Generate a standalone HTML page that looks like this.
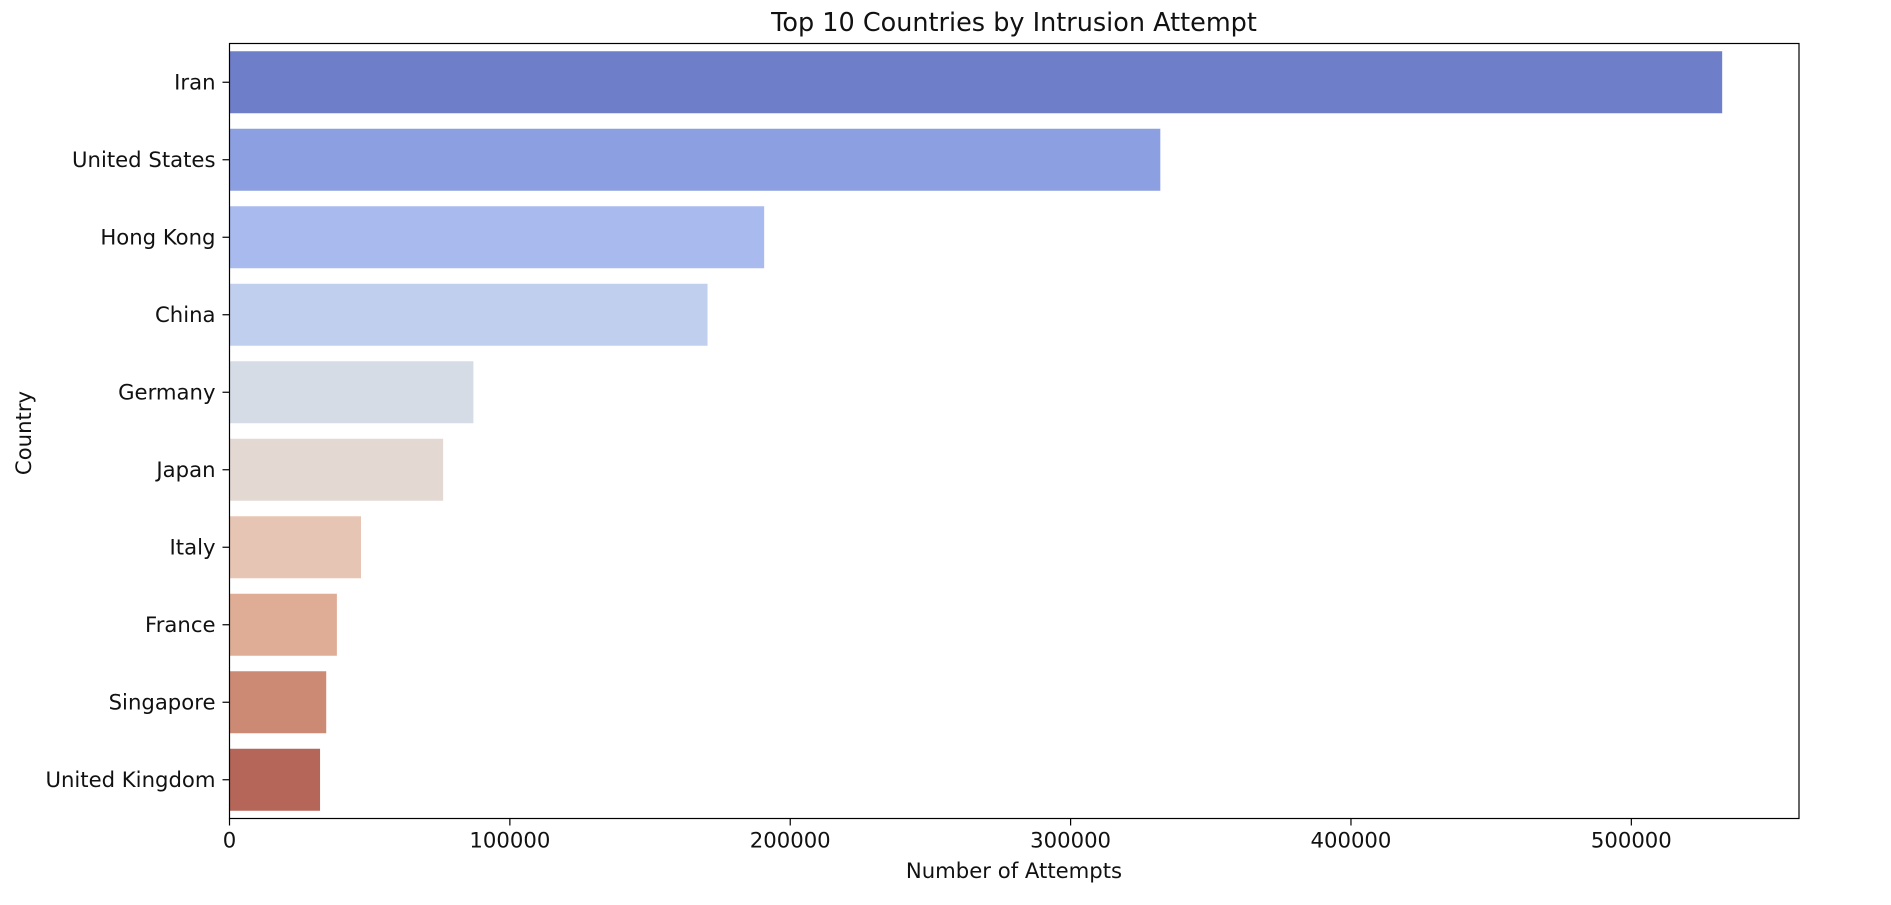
<!DOCTYPE html>
<html><head><meta charset="utf-8"><style>
html,body{margin:0;padding:0;background:#fff;}
svg{display:block;font-family:"DejaVu Sans","Liberation Sans",sans-serif;}
</style></head><body>
<svg id="chart" width="1891" height="905" viewBox="0 0 1891 905">
<text x="1014" y="31" text-anchor="middle" font-size="25.5" fill="#111">Top 10 Countries by Intrusion Attempt</text>
<g id="bars"></g>
<g id="yaxis"></g>
<g id="xaxis"></g>
<rect x="229.5" y="43.5" width="1569.5" height="775" fill="none" stroke="#000" stroke-width="1.2"/>
<text x="1014" y="878" text-anchor="middle" font-size="21.2" fill="#111">Number of Attempts</text>
<text x="0" y="0" transform="translate(31,433) rotate(-90)" text-anchor="middle" font-size="21.2" fill="#111">Country</text>
</svg>
<script>
const categories = ["Iran","United States","Hong Kong","China","Germany","Japan","Italy","France","Singapore","United Kingdom"];
const values = [532400,332000,190700,170500,87000,76200,46900,38300,34500,32300];
const colors = ["#6f7ec9","#8c9fe1","#a8baee","#c1cfee","#d6dce6","#e4d8d3","#e7c5b4","#dfad95","#cc8a75","#b56658"];
const xTicks = [0,100000,200000,300000,400000,500000];
const xTickLabels = ["0","100000","200000","300000","400000","500000"];

const L=229.5,R=1799,T=43.5,B=818.5,XMAX=559800;
const NS="http://www.w3.org/2000/svg";
const xs=v=>L+(v/XMAX)*(R-L);
const band=(B-T)/categories.length;
const yc=i=>T+band*(i+0.5);
const bars=document.getElementById('bars'),ya=document.getElementById('yaxis'),xa=document.getElementById('xaxis');
function mk(tag,attrs){const e=document.createElementNS(NS,tag);for(const k in attrs)e.setAttribute(k,attrs[k]);return e;}
categories.forEach((c,i)=>{
  const h=band*0.8;
  const r=mk('rect',{x:xs(0),y:yc(i)-h/2,width:xs(values[i])-xs(0),height:h,fill:colors[i]});
  
  
  bars.appendChild(r);
  const t=mk('line',{x1:L-7,x2:L,y1:yc(i),y2:yc(i),stroke:'#000','stroke-width':1.2});
  
  
  ya.appendChild(t);
  const lb=mk('text',{x:L-14,y:yc(i)+7,'text-anchor':'end','font-size':21.2,fill:'#111'});
  lb.textContent=c;
  
  
  ya.appendChild(lb);
});
xTicks.forEach((v,i)=>{
  const t=mk('line',{x1:xs(v),x2:xs(v),y1:B,y2:B+7,stroke:'#000','stroke-width':1.2});
  
  
  xa.appendChild(t);
  const lb=mk('text',{x:xs(v),y:B+29,'text-anchor':'middle','font-size':21.2,fill:'#111'});
  lb.textContent=xTickLabels[i];
  
  
  xa.appendChild(lb);
});
</script>
</body></html>
